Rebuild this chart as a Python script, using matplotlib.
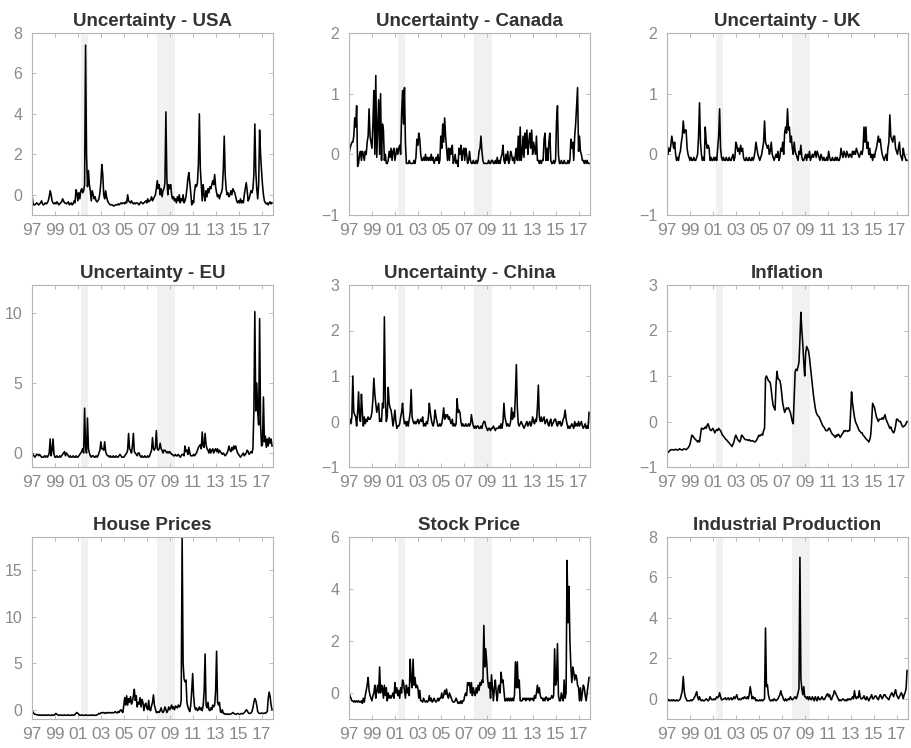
import numpy as np
import matplotlib
matplotlib.use("Agg")
import matplotlib.pyplot as plt

plt.rcParams["font.family"] = ["Liberation Sans", "DejaVu Sans"]

# monthly series, Jan 1997 - Dec 2017 (one row per year)
usa = [
    0.0, -0.4, -0.5, -0.5, -0.45, -0.4, -0.45, -0.5, -0.45, -0.4, -0.3, -0.45,
    -0.5, -0.45, -0.4, -0.45, -0.4, -0.3, -0.1, 0.2, 0.0, -0.3, -0.4, -0.45,
    -0.4, -0.45, -0.35, -0.4, -0.5, -0.45, -0.4, -0.35, -0.2, -0.3, -0.4, -0.4,
    -0.45, -0.4, -0.35, -0.5, -0.45, -0.4, -0.5, -0.45, -0.3, -0.4, 0.25, 0.1,
    -0.3, 0.1, -0.2, 0.2, 0.3, 0.1, 0.2, 0.5, 7.4, 2.0, 0.4, 1.2,
    0.5, 0.2, -0.3, 0.2, 0.0, -0.2, -0.1, -0.3, -0.35, -0.3, -0.2, 0.1,
    0.6, 1.5, 1.0, 0.0, -0.2, 0.2, -0.1, -0.3, -0.4, -0.45, -0.5, -0.5,
    -0.5, -0.55, -0.55, -0.5, -0.5, -0.5, -0.45, -0.5, -0.45, -0.4, -0.45, -0.4,
    -0.4, -0.45, -0.35, -0.4, 0.0, -0.3, -0.35, -0.4, -0.3, -0.4, -0.45, -0.4,
    -0.45, -0.4, -0.4, -0.45, -0.5, -0.4, -0.35, -0.4, -0.45, -0.4, -0.35, -0.3,
    -0.4, -0.2, -0.35, -0.3, -0.25, -0.1, -0.3, -0.2, -0.1, 0.0, 0.3, 0.7,
    0.3, 0.5, 0.0, 0.3, -0.1, 0.2, 0.3, 0.6, 4.1, 0.8, 0.0, 0.5,
    0.3, 0.5, 0.0, -0.2, -0.1, -0.3, -0.2, -0.4, -0.1, -0.3, 0.0, -0.4,
    -0.2, -0.3, 0.0, -0.4, -0.3, -0.1, 0.3, 0.8, 1.1, 0.6, 0.1, -0.5,
    -0.3, -0.4, 0.2, 0.5, 0.4, 0.6, 1.5, 4.0, 1.3, 0.5, -0.3, 0.5,
    0.0, -0.3, 0.2, -0.1, 0.3, 0.1, 0.4, 0.3, 0.5, 0.7, 0.5, 1.0,
    0.4, 0.1, -0.1, 0.0, -0.2, 0.0, 0.1, 0.3, 1.2, 2.9, 1.0, 0.3,
    0.0, 0.1, -0.1, 0.0, 0.2, 0.0, 0.3, 0.2, 0.1, -0.1, -0.3, -0.4,
    -0.3, -0.4, -0.2, -0.4, -0.3, -0.4, 0.0, 0.3, 0.6, 0.2, -0.3, -0.2,
    0.0, 0.2, 0.1, 0.3, 1.0, 3.5, 1.2, 0.3, -0.2, 0.5, 3.2, 2.0,
    1.2, 0.5, 0.0, -0.3, -0.4, -0.45, -0.4, -0.5, -0.4, -0.35, -0.45, -0.4,
]

canada = [
    0.0, 0.1, 0.15, 0.2, 0.2, 0.3, 0.6, 0.45, 0.8, -0.2, -0.15, 0.0,
    0.05, -0.1, 0.05, 0.0, -0.1, 0.05, 0.0, 0.2, 0.3, 0.75, 0.3, 0.2,
    0.1, 0.5, 1.05, 0.0, 1.3, -0.05, 0.4, 0.9, 0.0, 1.0, -0.1, 0.5,
    0.4, -0.1, 0.0, -0.15, -0.15, -0.1, 0.05, -0.05, 0.1, -0.1, 0.05, 0.1,
    -0.1, 0.0, 0.1, 0.0, 0.1, 0.15, 0.0, 0.65, 1.05, 0.5, 1.1, 0.2,
    -0.15, -0.15, -0.15, -0.1, -0.15, -0.15, -0.15, -0.15, -0.1, -0.15, -0.05, 0.25,
    0.15, 0.35, 0.25, 0.0, -0.1, -0.1, -0.05, -0.1, 0.0, -0.1, -0.05, -0.1,
    -0.05, -0.1, 0.0, -0.1, -0.05, -0.15, -0.1, -0.05, -0.1, 0.0, -0.15, -0.1,
    0.3, 0.1, 0.5, 0.2, 0.6, 0.3, 0.1, -0.1, 0.1, -0.1, 0.1, 0.0,
    0.15, -0.15, -0.1, 0.0, -0.15, -0.1, -0.2, 0.1, 0.0, 0.15, -0.1, 0.05,
    0.1, -0.1, 0.1, 0.0, -0.15, -0.1, 0.05, -0.1, -0.15, -0.15, -0.1, -0.15,
    -0.15, -0.1, -0.15, -0.1, 0.05, 0.1, 0.3, 0.05, -0.1, -0.15, -0.15, -0.15,
    -0.15, -0.15, -0.1, -0.15, -0.15, -0.1, -0.1, -0.15, -0.15, -0.1, -0.15, -0.05,
    -0.15, -0.1, -0.15, -0.05, 0.0, 0.15, -0.1, -0.15, 0.0, -0.1, 0.05, -0.15,
    -0.1, 0.05, 0.0, -0.1, -0.05, -0.15, 0.0, 0.1, -0.1, 0.3, -0.1, 0.45,
    -0.1, 0.0, 0.3, -0.05, 0.35, 0.1, 0.4, 0.0, 0.2, 0.35, 0.1, 0.4,
    0.0, 0.2, 0.1, 0.0, 0.3, -0.1, -0.1, -0.15, -0.1, -0.15, -0.1, -0.1,
    0.25, 0.35, -0.1, 0.1, -0.1, 0.2, 0.35, -0.1, -0.15, -0.15, -0.1, -0.15,
    -0.1, 0.55, 0.8, 0.0, -0.15, -0.15, -0.1, -0.15, -0.15, -0.1, -0.15, -0.15,
    -0.15, -0.1, -0.15, -0.1, 0.25, 0.1, 0.2, -0.1, 0.3, 0.5, 0.8, 1.1,
    0.05, 0.3, 0.05, 0.0, -0.1, -0.1, -0.15, -0.1, -0.15, -0.1, -0.15, -0.15,
]

uk = [
    0.2, 0.0, 0.1, 0.05, 0.15, 0.3, 0.2, 0.1, 0.2, 0.0, -0.1, -0.05,
    -0.1, 0.0, 0.05, 0.2, 0.3, 0.55, 0.35, 0.4, 0.4, 0.1, 0.0, -0.05,
    -0.1, -0.05, -0.1, -0.1, -0.05, -0.1, -0.1, -0.05, 0.0, 0.3, 0.85, 0.2,
    0.0, -0.1, -0.05, -0.1, 0.45, 0.2, 0.1, 0.15, 0.1, -0.1, -0.05, -0.1,
    -0.1, -0.05, -0.1, -0.05, -0.1, 0.1, 0.3, 0.75, 0.1, -0.05, -0.1, -0.05,
    -0.1, -0.1, -0.05, -0.1, -0.1, -0.05, -0.1, -0.1, -0.05, 0.0, -0.1, -0.05,
    0.2, 0.15, 0.05, 0.1, 0.0, 0.15, 0.05, 0.1, -0.05, -0.1, -0.1, -0.05,
    -0.1, -0.1, -0.05, -0.1, -0.1, -0.05, -0.1, -0.05, 0.05, 0.2, 0.1, 0.0,
    -0.05, -0.1, -0.05, 0.0, 0.1, 0.2, 0.55, 0.2, 0.15, 0.1, 0.15, 0.0,
    0.05, 0.2, 0.0, -0.05, -0.1, -0.05, 0.0, -0.05, 0.05, -0.1, -0.05, 0.1,
    0.05, 0.2, 0.0, 0.35, 0.45, 0.35, 0.75, 0.4, 0.45, 0.2, 0.3, 0.1,
    0.0, 0.2, 0.05, 0.0, -0.05, -0.1, 0.05, 0.0, 0.15, -0.05, -0.1, -0.1,
    -0.05, 0.0, -0.1, 0.0, -0.05, 0.05, -0.1, -0.05, 0.0, -0.05, 0.0, 0.05,
    -0.05, 0.05, 0.0, -0.05, -0.1, 0.0, -0.05, -0.1, -0.05, -0.1, -0.1, -0.05,
    -0.1, 0.05, -0.05, -0.1, -0.1, -0.05, -0.1, -0.1, -0.05, -0.1, -0.05, -0.1,
    -0.1, -0.05, 0.1, 0.0, -0.05, 0.05, 0.0, -0.05, 0.05, 0.0, -0.05, 0.0,
    0.0, -0.05, 0.05, 0.0, 0.05, 0.0, 0.1, 0.05, 0.0, -0.05, 0.0, 0.05,
    0.0, 0.1, 0.45, 0.2, 0.45, 0.1, 0.2, 0.0, 0.1, -0.05, 0.0, -0.1,
    0.0, -0.05, 0.05, 0.1, 0.2, 0.3, 0.2, 0.25, 0.1, 0.0, -0.05, -0.1,
    -0.05, 0.0, -0.1, 0.1, 0.2, 0.65, 0.3, 0.25, 0.2, 0.3, 0.3, 0.1,
    0.05, 0.0, 0.1, 0.2, 0.0, -0.05, -0.1, 0.1, 0.0, -0.05, -0.1, -0.1,
]

eu = [
    0.1, -0.1, -0.2, -0.3, -0.2, -0.1, -0.1, -0.2, -0.1, -0.2, -0.3, -0.3,
    -0.3, -0.2, -0.3, -0.2, -0.3, -0.2, 0.0, 1.0, -0.2, 0.2, 1.0, -0.1,
    -0.3, -0.3, -0.2, -0.3, -0.3, -0.2, -0.3, -0.2, -0.1, 0.0, 0.1, -0.2,
    0.0, -0.1, -0.2, -0.3, -0.2, -0.3, -0.3, -0.2, -0.3, -0.3, -0.2, -0.3,
    -0.3, -0.2, -0.1, 0.0, 0.1, 0.3, 0.0, 3.2, 0.4, 0.0, 2.5, 0.3,
    0.0, -0.2, -0.3, -0.2, -0.2, -0.3, -0.3, -0.2, -0.3, -0.2, 0.0, 0.2,
    0.8, 0.3, 0.3, 0.2, 0.8, 0.1, -0.1, -0.2, -0.2, -0.3, -0.2, -0.3,
    -0.3, -0.2, -0.3, -0.3, -0.2, -0.3, -0.3, -0.2, -0.1, -0.2, -0.3, -0.3,
    -0.3, -0.2, -0.1, 0.0, 0.2, 1.4, 0.3, 0.2, 0.0, 0.5, 1.4, 0.1,
    0.0, -0.1, -0.2, 0.0, 0.0, -0.2, -0.3, -0.2, -0.3, -0.3, -0.2, -0.3,
    -0.3, -0.2, -0.3, -0.2, 0.0, 0.2, 1.1, 0.3, 0.2, 0.4, 1.6, 0.3,
    0.2, 0.3, 0.7, 0.3, 0.2, 0.0, 0.2, 0.2, 0.1, 0.0, 0.1, 0.0,
    0.1, 0.0, -0.1, -0.1, -0.2, -0.2, -0.1, -0.2, -0.2, -0.1, -0.2, -0.3,
    -0.2, -0.1, -0.1, -0.2, 0.5, 0.1, 0.2, -0.1, 0.4, 0.0, -0.2, -0.2,
    -0.2, -0.1, -0.2, -0.1, 0.0, 0.2, 0.4, 0.5, 0.6, 0.3, 1.5, 0.5,
    0.4, 1.4, 0.6, 0.3, 0.2, 0.0, 0.3, 0.0, 0.2, 0.3, 0.0, 0.2,
    0.3, 0.1, 0.3, 0.0, 0.2, 0.1, 0.0, -0.1, 0.0, -0.1, -0.2, -0.1,
    0.0, 0.2, 0.5, 0.2, 0.1, 0.4, 0.2, 0.5, 0.3, 0.5, 0.2, 0.0,
    -0.1, -0.2, -0.3, -0.2, -0.1, 0.0, -0.2, -0.1, 0.0, 0.2, 0.1, -0.1,
    0.0, 0.1, 0.0, 0.3, 3.0, 10.1, 3.0, 5.0, 3.0, 2.0, 9.6, 2.0,
    0.5, 0.6, 4.0, 0.8, 1.2, 0.4, 1.0, 0.5, 1.1, 0.7, 1.0, 0.5,
]

china = [
    0.0, 0.05, -0.05, 0.1, 1.0, 0.2, 0.15, 0.1, -0.1, 0.2, 0.65, 0.1,
    0.0, 0.6, 0.2, -0.1, 0.1, -0.05, 0.05, 0.0, 0.1, 0.05, 0.05, 0.1,
    0.2, 0.5, 0.95, 0.6, 0.4, 0.2, 0.3, 0.4, 0.0, 0.05, 0.0, 0.4,
    0.3, 2.3, 0.5, 0.0, 0.1, 0.75, 0.4, 0.3, 0.25, 0.1, -0.1, 0.05,
    0.25, 0.0, -0.15, -0.1, -0.1, -0.05, 0.1, 0.2, 0.4, 0.1, -0.05, 0.0,
    -0.1, 0.0, -0.1, 0.05, 0.2, 0.7, 0.1, 0.0, -0.05, 0.0, -0.05, 0.0,
    0.05, -0.05, 0.0, 0.05, 0.0, 0.1, -0.1, -0.05, -0.1, 0.0, -0.05, 0.1,
    0.4, 0.2, 0.05, -0.05, -0.1, 0.0, 0.25, 0.1, 0.0, -0.1, -0.1, -0.05,
    -0.1, -0.05, 0.1, 0.3, 0.05, 0.15, 0.1, 0.15, 0.05, 0.1, 0.0, -0.05,
    0.05, -0.1, -0.05, -0.1, -0.05, 0.5, 0.2, 0.25, 0.2, 0.0, -0.1, -0.05,
    -0.1, -0.1, -0.05, -0.1, -0.1, -0.05, -0.1, -0.05, 0.15, 0.0, -0.1, -0.15,
    -0.1, -0.15, -0.1, -0.1, -0.15, -0.15, -0.1, -0.15, -0.05, 0.0, 0.0, -0.1,
    -0.15, -0.2, -0.15, -0.15, -0.2, -0.15, -0.15, -0.1, -0.15, -0.2, -0.15, -0.15,
    -0.15, -0.1, -0.15, -0.05, -0.15, 0.0, 0.4, 0.1, 0.0, -0.1, -0.05, -0.1,
    -0.1, 0.0, 0.3, 0.05, 0.2, 0.1, 0.6, 1.25, 0.3, -0.05, -0.1, -0.05,
    0.0, -0.05, -0.1, -0.15, -0.1, -0.05, 0.0, -0.1, -0.05, 0.0, -0.1, -0.05,
    0.1, 0.0, -0.05, 0.05, 0.0, 0.3, 0.8, 0.1, 0.0, 0.1, 0.0, 0.05,
    0.1, -0.05, 0.0, 0.05, -0.05, -0.1, 0.0, 0.05, -0.1, -0.05, 0.0, 0.05,
    0.05, -0.05, -0.1, 0.0, -0.05, 0.0, -0.1, -0.05, 0.05, 0.1, 0.25, 0.05,
    -0.05, -0.15, -0.1, -0.15, -0.1, -0.05, -0.1, -0.15, 0.0, -0.1, -0.05, -0.1,
    0.0, -0.1, -0.05, 0.0, -0.1, -0.15, -0.1, -0.05, -0.15, -0.1, -0.15, 0.2,
]

inflation = [
    -0.7, -0.68, -0.66, -0.64, -0.62, -0.62, -0.62, -0.63, -0.62, -0.61, -0.62, -0.63,
    -0.62, -0.6, -0.61, -0.62, -0.63, -0.61, -0.6, -0.61, -0.62, -0.6, -0.58, -0.55,
    -0.5, -0.4, -0.3, -0.32, -0.35, -0.38, -0.4, -0.42, -0.45, -0.42, -0.45, -0.3,
    -0.15, -0.15, -0.17, -0.15, -0.12, -0.15, -0.08, -0.05, -0.12, -0.18, -0.2, -0.18,
    -0.15, -0.2, -0.25, -0.2, -0.18, -0.2, -0.15, -0.18, -0.2, -0.25, -0.3, -0.32,
    -0.35, -0.38, -0.4, -0.42, -0.45, -0.47, -0.5, -0.52, -0.55, -0.5, -0.45, -0.35,
    -0.3, -0.35, -0.4, -0.42, -0.45, -0.4, -0.3, -0.32, -0.35, -0.38, -0.4, -0.4,
    -0.4, -0.42, -0.4, -0.42, -0.43, -0.42, -0.43, -0.44, -0.45, -0.43, -0.4, -0.35,
    -0.3, -0.32, -0.3, -0.28, -0.3, -0.2, -0.15, 0.95, 1.0, 0.95, 0.9, 0.88,
    0.85, 0.7, 0.5, 0.35, 0.3, 0.25, 0.8, 1.1, 0.95, 0.92, 0.9, 0.8,
    0.6, 0.4, 0.3, 0.2, 0.25, 0.3, 0.28, 0.3, 0.25, 0.2, 0.1, 0.0,
    -0.05, 0.5, 1.1, 1.15, 1.12, 1.2, 1.3, 1.8, 2.4, 2.0, 1.7, 1.3,
    1.0, 1.5, 1.65, 1.6, 1.55, 1.4, 1.2, 1.0, 0.8, 0.6, 0.45, 0.3,
    0.2, 0.15, 0.12, 0.1, 0.05, 0.0, -0.05, -0.1, -0.12, -0.15, -0.2, -0.2,
    -0.2, -0.15, -0.15, -0.2, -0.25, -0.28, -0.3, -0.32, -0.35, -0.3, -0.32, -0.28,
    -0.3, -0.35, -0.32, -0.28, -0.25, -0.2, -0.22, -0.2, -0.2, -0.22, -0.2, -0.2,
    0.2, 0.65, 0.4, 0.25, 0.1, 0.0, -0.05, -0.1, -0.15, -0.2, -0.22, -0.25,
    -0.25, -0.3, -0.32, -0.35, -0.38, -0.4, -0.42, -0.45, -0.4, -0.3, 0.0, 0.4,
    0.35, 0.3, 0.2, 0.1, 0.05, 0.0, 0.05, 0.05, 0.05, 0.08, 0.05, 0.1,
    0.15, 0.05, 0.0, -0.05, -0.1, -0.15, -0.12, -0.18, -0.22, -0.25, -0.2, -0.1,
    0.05, 0.05, 0.02, 0.0, 0.0, -0.05, -0.1, -0.12, -0.1, -0.08, -0.05, 0.0,
]

house = [
    0.0, -0.3, -0.4, -0.5, -0.5, -0.55, -0.55, -0.6, -0.55, -0.6, -0.6, -0.55,
    -0.6, -0.6, -0.55, -0.6, -0.6, -0.55, -0.6, -0.6, -0.6, -0.55, -0.6, -0.6,
    -0.5, -0.4, -0.5, -0.55, -0.6, -0.6, -0.55, -0.6, -0.6, -0.6, -0.55, -0.6,
    -0.6, -0.6, -0.55, -0.6, -0.6, -0.6, -0.55, -0.6, -0.6, -0.5, -0.4, -0.3,
    -0.4, -0.5, -0.6, -0.6, -0.55, -0.6, -0.6, -0.6, -0.55, -0.6, -0.6, -0.6,
    -0.6, -0.6, -0.6, -0.55, -0.6, -0.6, -0.6, -0.6, -0.55, -0.5, -0.4, -0.45,
    -0.35, -0.3, -0.35, -0.3, -0.35, -0.4, -0.3, -0.35, -0.3, -0.35, -0.3, -0.35,
    -0.3, -0.35, -0.3, -0.2, -0.3, -0.35, -0.2, -0.3, -0.1, 0.0, -0.2, -0.3,
    0.5, 1.3, 0.5, 1.5, 0.5, 1.2, 0.8, 1.4, 0.6, 0.9, 1.5, 2.2,
    1.0, 1.5, 0.3, 0.8, 0.6, 1.3, 0.3, 1.1, 0.8, -0.1, 0.5, 0.7,
    0.2, 0.0, 1.0, 0.0, -0.1, 0.4, 0.8, 1.6, 0.5, 0.1, -0.3, -0.3,
    -0.2, -0.3, -0.1, 0.2, -0.2, -0.3, -0.1, 0.3, 0.0, -0.3, -0.1, 0.3,
    0.0, 0.2, 0.5, 0.1, 0.3, 0.0, 0.4, 0.3, 0.2, 0.5, 0.3, 0.4,
    1.0, 18.5, 5.0, 3.3, 3.0, 3.2, 0.8, 0.3, 0.0, -0.2, 0.5, 2.0,
    3.9, 1.5, 0.3, 0.0, 0.2, -0.1, 0.0, 0.3, 0.0, 0.2, -0.1, 0.5,
    2.0, 6.0, 0.5, 0.2, 0.8, 0.0, -0.1, 0.2, 0.0, 0.5, 0.3, 0.5,
    2.0, 6.3, 0.8, 0.5, 0.8, -0.2, -0.3, 0.0, -0.4, -0.4, -0.5, -0.45,
    -0.5, -0.45, -0.5, -0.5, -0.45, -0.4, -0.3, -0.4, -0.45, -0.5, -0.45, -0.4,
    -0.45, -0.5, -0.45, -0.4, -0.45, -0.4, -0.3, -0.2, 0.0, -0.1, -0.3, -0.4,
    -0.4, -0.35, -0.2, 0.2, 0.8, 1.2, 1.0, 0.5, -0.2, -0.35, -0.4, -0.4,
    -0.35, -0.4, -0.4, -0.35, -0.4, -0.3, -0.2, 1.2, 1.9, 1.4, 0.5, 0.0,
]

stock = [
    0.0, -0.1, -0.2, -0.3, -0.3, -0.35, -0.3, -0.35, -0.3, -0.35, -0.3, -0.35,
    -0.35, -0.3, -0.4, -0.2, -0.35, -0.1, 0.1, 0.3, 0.6, 0.1, -0.1, -0.2,
    -0.3, -0.1, 0.0, 0.3, -0.2, 0.1, 0.3, 0.0, 1.0, 0.0, 0.3, 0.2,
    -0.2, 0.3, -0.1, 0.2, -0.3, 0.0, -0.2, -0.1, -0.2, -0.1, 0.0, -0.2,
    0.4, 0.0, 0.2, -0.1, 0.1, -0.2, 0.2, 0.0, 0.5, 0.4, 0.1, -0.2,
    0.3, 0.0, 0.2, -0.1, 1.3, 0.5, 0.2, 1.3, 0.3, 0.6, 0.2, 0.3,
    0.2, -0.2, 0.1, -0.3, -0.3, -0.35, -0.2, -0.3, -0.35, -0.3, -0.35, -0.3,
    -0.1, -0.3, -0.2, -0.35, -0.3, -0.2, -0.3, -0.35, -0.3, -0.2, -0.3, -0.2,
    -0.2, 0.0, -0.2, -0.1, 0.1, -0.05, 0.15, -0.1, -0.2, 0.0, -0.1, -0.2,
    -0.3, -0.35, -0.35, -0.3, -0.2, -0.3, -0.4, -0.35, -0.4, -0.3, -0.4, -0.3,
    -0.3, -0.1, 0.0, -0.1, 0.4, 0.3, 0.4, 0.0, 0.4, -0.1, 0.2, 0.0,
    -0.1, 0.2, 0.0, 0.3, 0.1, 0.4, 0.3, 0.5, 0.4, 2.6, 1.0, 1.7,
    1.2, 0.5, 0.2, 0.4, -0.2, 0.7, 0.2, -0.3, 0.2, 0.5, 0.0, -0.3,
    0.2, 0.3, 0.0, 0.8, 0.4, 0.5, 0.1, -0.3, -0.3, -0.2, -0.3, -0.2,
    -0.3, -0.2, -0.3, -0.2, -0.3, -0.1, 1.2, 0.2, 1.2, 0.2, 0.5, -0.3,
    -0.3, -0.3, -0.2, -0.25, -0.2, -0.3, -0.2, -0.25, -0.2, -0.3, -0.2, -0.25,
    -0.2, -0.3, -0.1, -0.2, 0.0, 0.3, 0.0, 0.2, -0.1, -0.2, -0.2, -0.3,
    -0.2, -0.3, -0.15, -0.2, -0.3, -0.2, -0.25, -0.2, -0.1, -0.2, -0.1, 1.7,
    0.3, 0.5, 1.9, -0.1, -0.3, -0.3, 0.0, -0.2, -0.3, 0.5, -0.2, 0.0,
    5.1, 2.7, 4.1, 2.0, 1.0, 0.4, 1.0, 0.8, 0.5, 0.7, 0.6, 0.3,
    0.2, -0.3, 0.2, -0.3, 0.0, 0.3, 0.2, -0.1, -0.3, 0.0, 0.3, 0.6,
]

industrial = [
    0.1, -0.1, -0.05, -0.1, -0.1, -0.05, -0.1, -0.05, -0.1, -0.1, -0.05, -0.1,
    -0.1, -0.05, 0.0, 0.2, 0.4, 1.1, 0.4, 0.1, 0.0, -0.1, -0.1, -0.1,
    -0.1, -0.05, -0.1, -0.05, 0.0, 0.1, 0.2, 0.35, 0.1, -0.05, 0.1, -0.05,
    -0.1, -0.05, -0.1, -0.1, -0.05, 0.0, -0.05, -0.1, -0.05, 0.1, 0.0, -0.05,
    -0.05, 0.0, -0.05, 0.0, 0.1, 0.05, 0.1, 0.3, 0.1, -0.05, -0.05, 0.0,
    0.0, 0.05, -0.05, 0.0, 0.05, -0.05, 0.0, 0.05, -0.05, 0.0, 0.1, 0.0,
    0.1, 0.2, 0.0, -0.05, 0.0, -0.05, 0.0, 0.05, 0.0, 0.1, 0.05, 0.0,
    0.1, 0.0, 0.2, 0.6, 0.3, 0.0, 0.1, 0.0, 0.05, -0.1, -0.05, -0.1,
    -0.1, -0.05, -0.1, -0.05, -0.1, -0.05, 0.0, 3.5, 0.6, 0.7, 0.2, 0.0,
    -0.1, -0.1, -0.05, -0.1, 0.0, -0.05, -0.1, -0.05, 0.0, 0.1, 0.2, 0.4,
    0.2, 0.1, -0.05, -0.1, 0.0, -0.1, -0.05, 0.0, -0.05, 0.1, 0.0, -0.05,
    0.0, 0.05, 0.1, 0.0, 0.1, 0.3, 0.5, 7.0, 1.0, 0.5, 0.2, 0.6,
    0.1, 0.1, 0.0, 0.1, -0.05, 0.1, 0.0, -0.05, 0.1, 0.0, -0.1, 0.1,
    0.0, -0.1, 0.1, 0.0, -0.05, 0.0, 0.1, 0.0, -0.05, 0.0, 0.1, 0.2,
    0.25, 0.1, 0.2, 0.0, -0.05, 0.1, 0.2, 0.4, 0.3, 0.2, 0.1, 0.0,
    -0.1, -0.05, -0.1, -0.05, 0.0, -0.05, -0.1, -0.05, -0.1, 0.0, -0.05, 0.0,
    -0.05, 0.0, 0.1, 0.0, 0.4, 0.1, 0.0, 0.1, 0.05, 0.4, 0.1, 0.0,
    0.0, 0.05, 0.15, 0.0, -0.05, 0.1, 0.0, -0.1, 0.0, 0.1, 0.2, 0.0,
    0.0, 0.1, 0.15, 0.1, 0.0, -0.05, 0.1, 0.2, 0.1, 0.0, 0.1, 0.2,
    0.2, 0.1, 0.05, 0.0, -0.05, 0.1, 0.2, 0.3, 0.2, 0.1, 0.3, 0.45,
    0.2, 0.1, 0.0, 0.1, 0.2, 0.3, 0.2, 0.0, 0.2, 0.3, 0.5, 1.4,
]

titles = ["Uncertainty - USA", "Uncertainty - Canada", "Uncertainty - UK",
          "Uncertainty - EU", "Uncertainty - China", "Inflation",
          "House Prices", "Stock Price", "Industrial Production"]
series = [usa, canada, uk, eu, china, inflation, house, stock, industrial]
ylims = [(-1, 8), (-1, 2), (-1, 2), (-1, 12), (-1, 3), (-1, 3),
         (-1, 18.6), (-1, 6), (-1, 8)]
yticks = [[0, 2, 4, 6, 8], [-1, 0, 1, 2], [-1, 0, 1, 2], [0, 5, 10],
          [-1, 0, 1, 2, 3], [-1, 0, 1, 2, 3], [0, 5, 10, 15],
          [0, 2, 4, 6], [0, 2, 4, 6, 8]]
xtick_years = list(range(1997, 2018, 2))
xtick_labels = ["97", "99", "01", "03", "05", "07", "09", "11", "13", "15", "17"]
recessions = [(2001.25, 2001.92), (2007.92, 2009.5)]

W, H = 912, 748
fig = plt.figure(figsize=(W / 100, H / 100), dpi=100)
lefts = [32, 349, 667]
tops = [33, 285, 537]
aw, ah = 241, 182

grey_txt = "#8a8a8a"
for k, (name, y) in enumerate(zip(titles, series)):
    r, c = divmod(k, 3)
    ax = fig.add_axes([lefts[c] / W, (H - tops[r] - ah) / H, aw / W, ah / H])
    y = np.asarray(y)
    t = 1997 + np.arange(len(y)) / 12
    for a, b in recessions:
        ax.axvspan(a, b, color="#f1f1f1", lw=0, zorder=0)
    ax.plot(t, y, color="black", lw=1.15, zorder=2)
    ax.set_xlim(1997, 2018)
    ax.set_ylim(*ylims[k])
    ax.set_xticks(xtick_years)
    ax.set_xticklabels(xtick_labels)
    ax.set_yticks(yticks[k])
    ax.tick_params(direction="in", length=3, width=0.6, colors="#b0b0b0",
                   top=True, right=True)
    ax.tick_params(axis="x", labelsize=12.5, labelcolor=grey_txt, pad=6)
    ax.tick_params(axis="y", labelsize=11.5, labelcolor=grey_txt, pad=7)
    for sp in ax.spines.values():
        sp.set_color("#b5b5b5")
        sp.set_linewidth(0.8)
    ax.set_title(name, fontsize=13.5, fontweight="bold", color="#333333", pad=5)

fig.savefig("out.png", dpi=100, facecolor="white")
